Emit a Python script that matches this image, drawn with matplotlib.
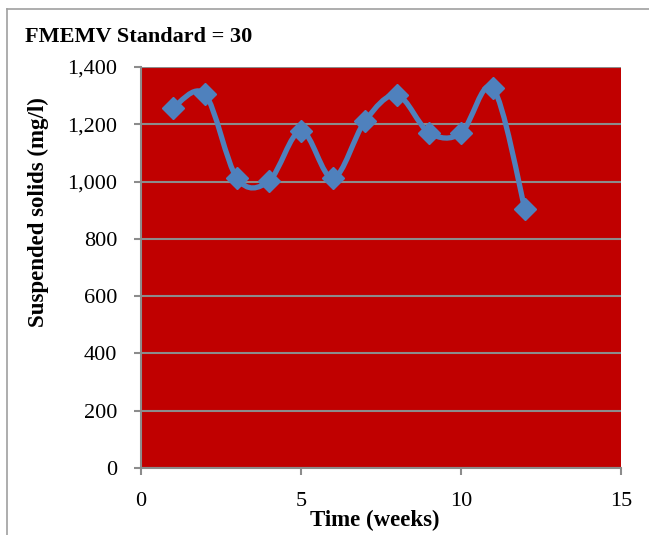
import matplotlib
matplotlib.use("Agg")
import matplotlib.pyplot as plt
from matplotlib.path import Path
from matplotlib.patches import PathPatch
from matplotlib.lines import Line2D
from matplotlib.ticker import FuncFormatter

# weekly readings
weeks = [1, 2, 3, 4, 5, 6, 7, 8, 9, 10, 11, 12]
solids = [1258, 1305, 1012, 1002, 1177, 1012, 1211, 1302, 1171, 1169, 1326, 903]

title = "FMEMV Standard = 30"
xlab = "Time (weeks)"
ylab = "Suspended solids (mg/l)"

plt.rcParams['font.family'] = ['Liberation Serif', 'DejaVu Serif']

blue = "#4F81BD"
red = "#C00000"
grey = "#8C8C8C"

fig = plt.figure(figsize=(6.49, 5.35), dpi=100)
ax = fig.add_axes([141/649, 1-468/535, 480/649, 401/535])
ax.set_facecolor(red)
ax.set_xlim(0, 15)
ax.set_ylim(0, 1400)
ax.set_xticks([0, 5, 10, 15])
ax.set_yticks(range(0, 1401, 200))
ax.yaxis.set_major_formatter(FuncFormatter(lambda v, p: "{:,.0f}".format(v)))
ax.grid(axis='y', color=grey, lw=1.5)
ax.set_axisbelow(True)
for s in ['top', 'right']:
    ax.spines[s].set_visible(False)
for s in ['left', 'bottom']:
    ax.spines[s].set_color(grey)
    ax.spines[s].set_linewidth(1.5)
ax.tick_params(colors=grey, labelcolor='black', labelsize=16, length=5, width=1.5)
ax.tick_params(axis='y', pad=12)
ax.tick_params(axis='x', pad=12)

# excel-style smoothed line (bezier through the points)
pts = list(zip(weeks, solids))
n = len(pts)
verts = [pts[0]]
codes = [Path.MOVETO]
for i in range(n - 1):
    p0 = pts[max(i - 1, 0)]
    p1 = pts[i]
    p2 = pts[i + 1]
    p3 = pts[min(i + 2, n - 1)]
    c1 = (p1[0] + (p2[0] - p0[0]) / 6, p1[1] + (p2[1] - p0[1]) / 6)
    c2 = (p2[0] - (p3[0] - p1[0]) / 6, p2[1] - (p3[1] - p1[1]) / 6)
    verts += [c1, c2, p2]
    codes += [Path.CURVE4] * 3
ax.add_patch(PathPatch(Path(verts, codes), fill=False, edgecolor=blue, lw=3.8,
                       capstyle='round', joinstyle='round', zorder=3))
ax.plot(weeks, solids, ls='none', marker='D', ms=11.5, color=blue, zorder=4, clip_on=False)

fig.text(25/649, 1-37/535, title, fontsize=16, fontweight='bold', va='center', ha='left')
fig.text(375/649, 1-520/535, xlab, fontsize=16.5, fontweight='bold', va='center', ha='center')
fig.text(38/649, 1-212/535, ylab, fontsize=16.5, fontweight='bold', va='center', ha='center',
         rotation=90)

# chart frame
fig.add_artist(Line2D([7/649, 7/649], [0, 1-9/535], color='#A0A0A0', lw=1.2))
fig.add_artist(Line2D([7/649, 1], [1-9/535, 1-9/535], color='#A0A0A0', lw=1.2))

fig.savefig("out.png", dpi=100)
